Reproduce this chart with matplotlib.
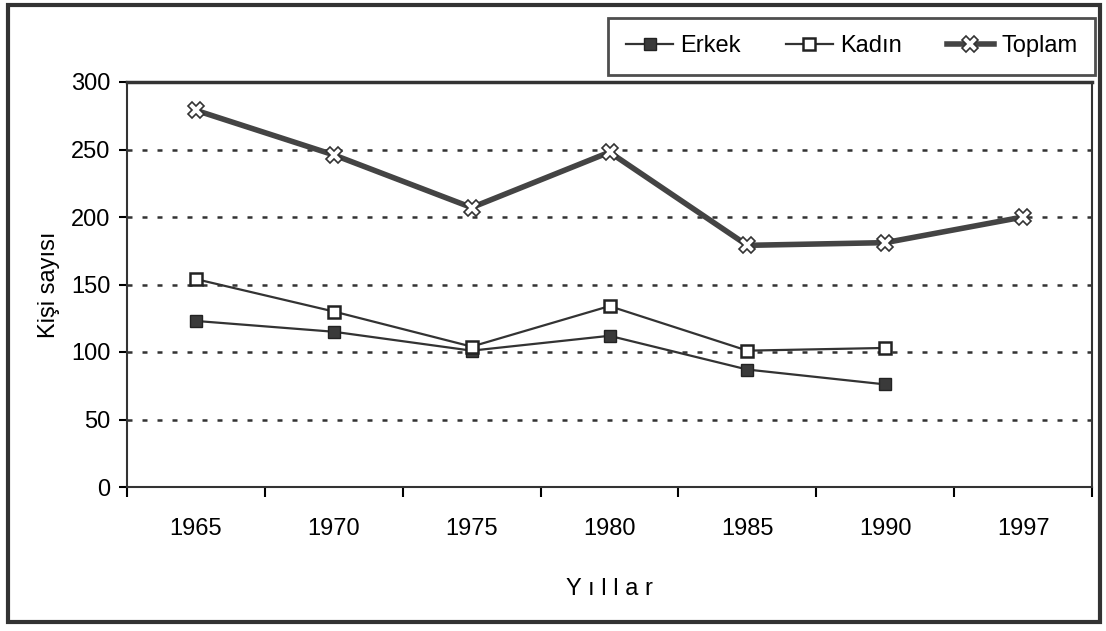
import numpy as np
import matplotlib.pyplot as plt
from matplotlib.patches import Rectangle

plt.rcParams['font.family'] = ['Liberation Sans', 'DejaVu Sans']

# veriler
yillar = ['1965', '1970', '1975', '1980', '1985', '1990', '1997']
erkek = [123, 115, 101, 112, 87, 76]
kadin = [154, 130, 104, 134, 101, 103]
toplam = [279, 246, 207, 248, 179, 181, 200]

fig = plt.figure(figsize=(11.06, 6.31), dpi=100)
ax = fig.add_axes([127 / 1106, 1 - 487 / 631, 965 / 1106, 405 / 631])

x = np.arange(len(yillar))
ax.plot(x[:len(erkek)], erkek, color='#333333', lw=1.6, marker='s', ms=9,
        mfc='#3a3a3a', mec='#222222', label='Erkek')
ax.plot(x[:len(kadin)], kadin, color='#333333', lw=1.6, marker='s', ms=9,
        mfc='white', mec='#222222', mew=1.8, label='Kadın')
ax.plot(x, toplam, color='#444444', lw=4, marker='X', ms=11,
        mfc='white', mec='#333333', mew=1.2, label='Toplam')

ax.set_xlim(-0.5, len(yillar) - 0.5)
ax.set_ylim(0, 300)
ax.set_yticks(range(0, 301, 50))
ax.set_xticks(x)
ax.set_xticklabels(yillar, fontsize=17)
ax.set_xticks(np.arange(-0.5, len(yillar)), minor=True)
ax.tick_params(axis='x', which='major', length=0, pad=22)
ax.tick_params(axis='x', which='minor', length=7, width=1.5, direction='out')
ax.tick_params(axis='y', labelsize=17, length=6, width=1.5, pad=6)

for v in range(50, 300, 50):
    ax.axhline(v, color='#333333', lw=1.8, ls=(0, (2, 4)), zorder=0)

for s in ax.spines.values():
    s.set_linewidth(1.5)
    s.set_color('#333333')
ax.spines['top'].set_linewidth(2.5)

ax.set_ylabel('Kişi sayısı', fontsize=17, labelpad=8)
ax.set_xlabel('Y ı l l a r', fontsize=17, labelpad=28)

leg = ax.legend(loc='lower right', bbox_to_anchor=(1.003, 1.017), ncol=3,
                fontsize=17, frameon=True, fancybox=False, edgecolor='#222222',
                handlelength=2.0, handletextpad=0.3, columnspacing=1.9,
                borderpad=0.75, borderaxespad=0)
leg.get_frame().set_linewidth(2)

# dis cerceve
fig.patches.append(Rectangle((8 / 1106, 1 - 622 / 631), 1092 / 1106, 617 / 631,
                             transform=fig.transFigure, fill=False,
                             lw=3, ec='#333333'))

plt.savefig('out.png', dpi=100)
